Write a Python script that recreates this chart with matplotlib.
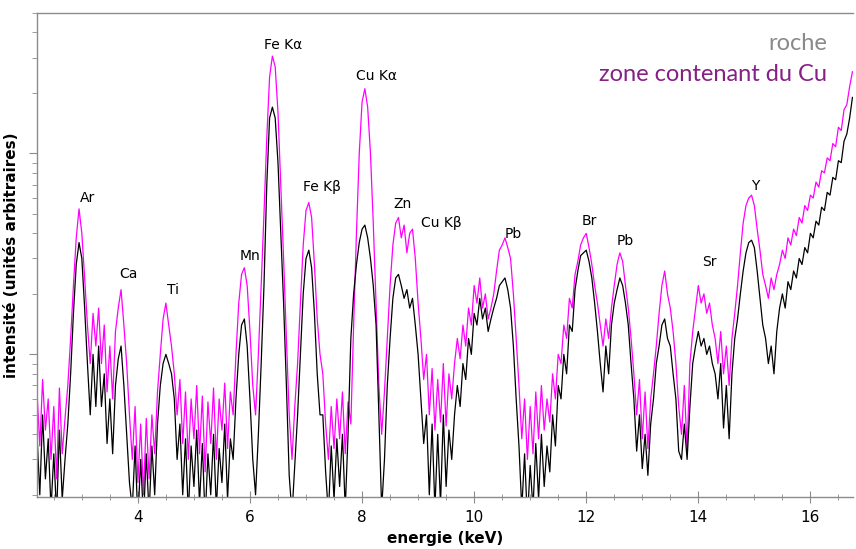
import numpy as np
import matplotlib
matplotlib.use("Agg")
import matplotlib.pyplot as plt
from matplotlib.ticker import LogLocator, NullFormatter, MultipleLocator

# canaux en energie (keV), pas de 0.05 keV
e_debut, e_pas, n_canaux = 2.20, 0.05, 292
energie = np.round(e_debut + e_pas * np.arange(n_canaux), 2)

# zone contenant du Cu (magenta)
zone_cu = [
    6.5, 3.5, 7.5, 4.2, 6.0, 3.0, 5.5, 2.4, 6.8, 3.2, 4.8, 7.0,
    12, 22, 38, 53, 40, 24, 14,
    9, 16, 11, 17, 9, 14, 6.5, 11, 6,
    13, 17, 21, 14, 9, 5,
    3.0, 5.5, 2.3, 4.5, 2.0, 4.8, 2.4, 5.0, 3.2, 6.5,
    10, 15, 18, 14, 11, 8,
    5.0, 7.5, 3.6, 6.5, 3.0, 6.0, 3.8, 7.0, 3.2, 6.2, 2.6, 5.8, 3.6, 6.8, 3.0, 6.0, 4.2, 7.2, 3.4, 6.5, 5.0,
    10, 18, 25, 27, 22, 13, 7,
    5, 10, 22, 50, 120, 240, 305, 270, 160, 70, 30, 12, 5,
    3.0, 5.5, 9,
    18, 35, 52, 57, 48, 28, 15, 10,
    8, 4.5, 3.0, 5.5, 3.4, 6.0, 3.8, 6.5, 3.2, 5.8, 4.5,
    14, 40, 100, 180, 210, 170, 100, 45, 18, 7,
    4, 6.5, 12, 22,
    35, 45, 48, 38, 44, 32, 40, 42, 30, 18,
    12, 7.5, 10, 5.0, 8.5, 4.2, 7.5, 4.6, 9.0, 4.4, 8.0, 6.0,
    9, 12, 9.5, 14, 11, 17, 14, 22, 18, 24, 17, 20, 15, 17,
    20, 26, 33, 35, 38, 34, 30, 20, 12,
    7, 3.8, 6.0, 3.0, 5.5, 3.2, 6.5, 3.8, 7.0, 4.2, 6.0, 4.6, 8.0, 6.0, 10,
    9, 14, 12, 19, 17, 25, 29, 35, 38, 40, 34, 28, 22,
    18, 14, 11, 15, 12,
    17, 22, 28, 32, 29, 22, 17, 12,
    8, 5.0, 7.5, 3.8, 6.5, 3.4, 6.0, 8.0, 11,
    16, 22, 26, 20, 17, 13,
    9, 5.5, 4.0, 7.0, 3.4, 9,
    13, 17, 22, 18, 20, 16, 18, 14,
    12, 9, 13, 8, 11, 7, 12, 16,
    22, 32, 45, 55, 60, 62, 55, 42, 33, 25,
    22, 19, 24, 21, 25,
    28, 33, 30, 38, 35, 42, 39, 48, 45, 55, 52, 62, 60, 72, 68, 82, 80, 95, 92,
    112, 108, 135, 130, 165, 175, 215, 255,
]

# roche (noir)
roche = [
    4.0, 2.0, 5.0, 2.4, 3.8, 1.7, 3.2, 1.6, 4.2, 1.9, 3.0, 4.5,
    8, 16, 28, 36, 30, 17, 9,
    5, 10, 5.5, 11, 5.5, 8, 3.6, 6, 3.2,
    7, 9.5, 11, 7, 4, 2.3,
    1.7, 3.5, 1.5, 3.0, 1.5, 3.2, 1.6, 3.5, 2.0, 4.5,
    7, 9, 10, 9, 8, 6,
    3.0, 4.5, 2.0, 3.8, 1.6, 3.5, 2.2, 4.2, 1.8, 3.6, 1.5, 3.2, 2.0, 4.0, 1.7, 3.4, 2.3, 4.5, 1.9, 3.8, 3.0,
    6, 10, 14, 15, 11, 6, 3,
    2.0, 4, 9, 22, 70, 150, 170, 150, 90, 40, 18, 7, 2.5,
    1.6, 2.8, 5,
    10, 20, 30, 33, 27, 16, 8, 5,
    5, 2.6, 1.6, 3.5, 1.9, 3.8, 2.2, 4.0, 1.7, 4.0, 12,
    20, 28, 36, 42, 44, 38, 30, 22, 14, 5,
    1.7, 3, 7, 12,
    19, 24, 25, 22, 19, 21, 17, 19, 14, 10,
    6, 3.6, 5, 2.0, 4.5, 1.7, 4.0, 1.8, 5.0, 2.2, 4.2, 3.0,
    5, 7, 5.5, 9, 7.5, 12, 10, 16, 14, 19, 15, 17, 13, 15,
    17, 19, 22, 23, 24, 21, 17, 11, 6,
    3.5, 1.7, 3.2, 1.5, 2.8, 1.7, 3.6, 1.9, 4.0, 2.2, 3.5, 2.6, 5.0, 3.5, 7,
    6, 10, 8, 14, 13, 21, 26, 31, 32, 33, 29, 24, 18,
    13, 9, 6.5, 11, 8,
    14, 18, 21, 24, 22, 18, 14, 9,
    6, 3.3, 5.0, 2.7, 4.0, 2.5, 4.5, 6.0, 9,
    11, 14, 15, 12, 11, 8,
    6, 3.3, 3.0, 4.5, 3.0, 5.5,
    9, 11, 13, 11, 12, 10, 11, 9,
    8, 6, 9, 4.3, 7, 3.8, 8, 12,
    15, 20, 26, 32, 36, 37, 34, 26, 19, 14,
    12, 9, 11, 8, 13,
    17, 20, 17, 23, 21, 26, 24, 30, 28, 34, 32, 40, 38, 46, 44, 54, 52, 64, 62,
    76, 74, 92, 90, 115, 125, 150, 190,
]

# etiquettes des raies : (texte, energie, intensite)
raies = [
    ("Ar", 3.11, 60), ("Ca", 3.84, 25), ("Ti", 4.63, 21), ("Mn", 6.0, 31),
    ("Fe K\u03b1", 6.59, 348), ("Fe K\u03b2", 7.29, 68), ("Cu K\u03b1", 8.25, 242),
    ("Zn", 8.73, 56), ("Cu K\u03b2", 9.41, 45), ("Pb", 10.70, 39.5),
    ("Br", 12.05, 46), ("Pb", 12.70, 36.5), ("Sr", 14.20, 28.7), ("Y", 15.02, 68.5),
]

fig = plt.figure(figsize=(8.56, 5.49), dpi=100)
ax = fig.add_axes([37 / 856, 52 / 549, 816 / 856, 484 / 549])

ax.plot(energie, zone_cu, color="#ff00ff", lw=0.9)
ax.plot(energie, roche, color="black", lw=0.9)

ax.set_yscale("log")
ax.set_xlim(2.2, 16.76)
ax.set_ylim(1.95, 500)

ax.xaxis.set_major_locator(MultipleLocator(2))
ax.xaxis.set_minor_locator(MultipleLocator(0.5))
ax.yaxis.set_major_locator(LogLocator(base=10))
ax.yaxis.set_minor_locator(LogLocator(base=10, subs=np.arange(2, 10)))
ax.yaxis.set_major_formatter(NullFormatter())
ax.yaxis.set_minor_formatter(NullFormatter())

for s in ["left", "top", "bottom"]:
    ax.spines[s].set_color("#8c8c8c")
    ax.spines[s].set_linewidth(1.0)
ax.spines["right"].set_visible(False)

ax.tick_params(axis="x", which="major", direction="inout", length=8, color="#8c8c8c",
               labelsize=11, pad=5)
ax.tick_params(axis="x", which="minor", direction="inout", length=5, color="#8c8c8c")
ax.tick_params(axis="y", which="major", direction="out", length=6, color="#8c8c8c")
ax.tick_params(axis="y", which="minor", direction="out", length=3.5, color="#8c8c8c")

ax.set_xlabel("energie (keV)", fontsize=11, fontweight="bold")
ax.xaxis.set_label_coords(0.5, -0.07)
ax.set_ylabel("intensit\u00e9 (unit\u00e9s arbitraires)", fontsize=11, fontweight="bold")
ax.yaxis.set_label_coords(-0.022, 0.5)

for txt, e, v in raies:
    ax.text(e, v, txt, fontsize=10, ha="center", va="center")

ax.text(0.968, 0.938, "roche", transform=ax.transAxes, ha="right", va="center",
        fontsize=17, color="#8a8a8a", family="Lato")
ax.text(0.968, 0.872, "zone contenant du Cu", transform=ax.transAxes, ha="right", va="center",
        fontsize=17, color="#862086", family="Lato")

fig.savefig("out.png", dpi=100)
